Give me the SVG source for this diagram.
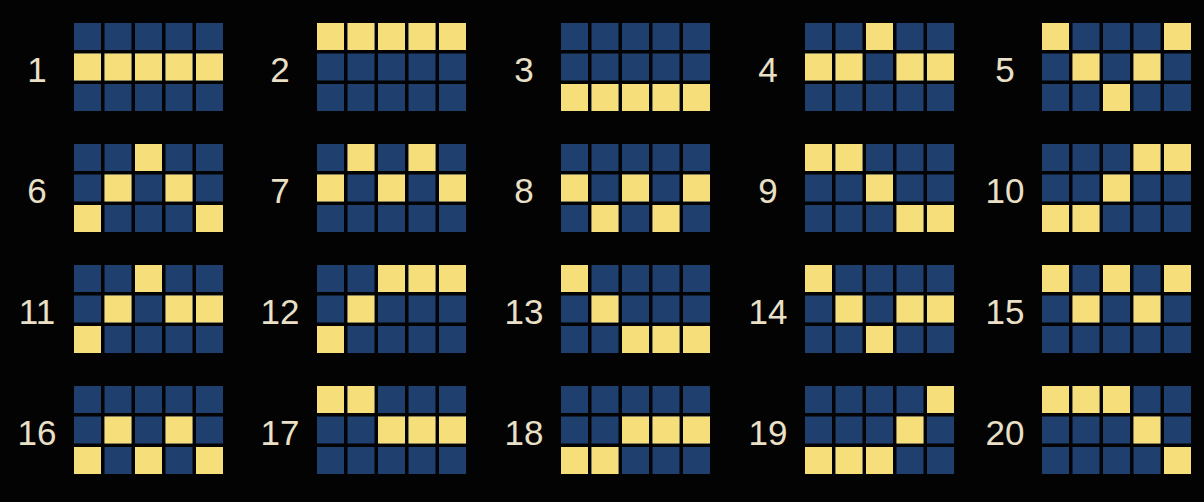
<svg xmlns="http://www.w3.org/2000/svg" xmlns:xlink="http://www.w3.org/1999/xlink" width="1204" height="502" viewBox="0 0 1204 502">
<style>
.b{fill:#1f3f6e}
.y{fill:#f6df7a}
.n{font-family:"Liberation Sans",Arial,sans-serif;font-size:35px;fill:#eae0c8;text-anchor:middle}
</style>
<defs>
<g id="bg">
<rect class="b" x="0" y="0" width="27" height="27"/><rect class="b" x="30.5" y="0" width="27" height="27"/><rect class="b" x="61" y="0" width="27" height="27"/><rect class="b" x="91.5" y="0" width="27" height="27"/><rect class="b" x="122" y="0" width="27" height="27"/>
<rect class="b" x="0" y="30.5" width="27" height="27"/><rect class="b" x="30.5" y="30.5" width="27" height="27"/><rect class="b" x="61" y="30.5" width="27" height="27"/><rect class="b" x="91.5" y="30.5" width="27" height="27"/><rect class="b" x="122" y="30.5" width="27" height="27"/>
<rect class="b" x="0" y="61" width="27" height="27"/><rect class="b" x="30.5" y="61" width="27" height="27"/><rect class="b" x="61" y="61" width="27" height="27"/><rect class="b" x="91.5" y="61" width="27" height="27"/><rect class="b" x="122" y="61" width="27" height="27"/>
</g>
</defs>
<rect width="1204" height="502" fill="#030303"/>

<g id="line1" transform="translate(74,23)"><use href="#bg"/><text class="n" x="-37" y="59">1</text>
<rect class="y" x="0" y="30.5" width="27" height="27"/><rect class="y" x="30.5" y="30.5" width="27" height="27"/><rect class="y" x="61" y="30.5" width="27" height="27"/><rect class="y" x="91.5" y="30.5" width="27" height="27"/><rect class="y" x="122" y="30.5" width="27" height="27"/></g>
<g id="line2" transform="translate(317,23)"><use href="#bg"/><text class="n" x="-37" y="59">2</text>
<rect class="y" x="0" y="0" width="27" height="27"/><rect class="y" x="30.5" y="0" width="27" height="27"/><rect class="y" x="61" y="0" width="27" height="27"/><rect class="y" x="91.5" y="0" width="27" height="27"/><rect class="y" x="122" y="0" width="27" height="27"/></g>
<g id="line3" transform="translate(561,23)"><use href="#bg"/><text class="n" x="-37" y="59">3</text>
<rect class="y" x="0" y="61" width="27" height="27"/><rect class="y" x="30.5" y="61" width="27" height="27"/><rect class="y" x="61" y="61" width="27" height="27"/><rect class="y" x="91.5" y="61" width="27" height="27"/><rect class="y" x="122" y="61" width="27" height="27"/></g>
<g id="line4" transform="translate(805,23)"><use href="#bg"/><text class="n" x="-37" y="59">4</text>
<rect class="y" x="0" y="30.5" width="27" height="27"/><rect class="y" x="30.5" y="30.5" width="27" height="27"/><rect class="y" x="61" y="0" width="27" height="27"/><rect class="y" x="91.5" y="30.5" width="27" height="27"/><rect class="y" x="122" y="30.5" width="27" height="27"/></g>
<g id="line5" transform="translate(1042,23)"><use href="#bg"/><text class="n" x="-37" y="59">5</text>
<rect class="y" x="0" y="0" width="27" height="27"/><rect class="y" x="30.5" y="30.5" width="27" height="27"/><rect class="y" x="61" y="61" width="27" height="27"/><rect class="y" x="91.5" y="30.5" width="27" height="27"/><rect class="y" x="122" y="0" width="27" height="27"/></g>

<g id="line6" transform="translate(74,144)"><use href="#bg"/><text class="n" x="-37" y="59">6</text>
<rect class="y" x="0" y="61" width="27" height="27"/><rect class="y" x="30.5" y="30.5" width="27" height="27"/><rect class="y" x="61" y="0" width="27" height="27"/><rect class="y" x="91.5" y="30.5" width="27" height="27"/><rect class="y" x="122" y="61" width="27" height="27"/></g>
<g id="line7" transform="translate(317,144)"><use href="#bg"/><text class="n" x="-37" y="59">7</text>
<rect class="y" x="0" y="30.5" width="27" height="27"/><rect class="y" x="30.5" y="0" width="27" height="27"/><rect class="y" x="61" y="30.5" width="27" height="27"/><rect class="y" x="91.5" y="0" width="27" height="27"/><rect class="y" x="122" y="30.5" width="27" height="27"/></g>
<g id="line8" transform="translate(561,144)"><use href="#bg"/><text class="n" x="-37" y="59">8</text>
<rect class="y" x="0" y="30.5" width="27" height="27"/><rect class="y" x="30.5" y="61" width="27" height="27"/><rect class="y" x="61" y="30.5" width="27" height="27"/><rect class="y" x="91.5" y="61" width="27" height="27"/><rect class="y" x="122" y="30.5" width="27" height="27"/></g>
<g id="line9" transform="translate(805,144)"><use href="#bg"/><text class="n" x="-37" y="59">9</text>
<rect class="y" x="0" y="0" width="27" height="27"/><rect class="y" x="30.5" y="0" width="27" height="27"/><rect class="y" x="61" y="30.5" width="27" height="27"/><rect class="y" x="91.5" y="61" width="27" height="27"/><rect class="y" x="122" y="61" width="27" height="27"/></g>
<g id="line10" transform="translate(1042,144)"><use href="#bg"/><text class="n" x="-37" y="59">10</text>
<rect class="y" x="0" y="61" width="27" height="27"/><rect class="y" x="30.5" y="61" width="27" height="27"/><rect class="y" x="61" y="30.5" width="27" height="27"/><rect class="y" x="91.5" y="0" width="27" height="27"/><rect class="y" x="122" y="0" width="27" height="27"/></g>

<g id="line11" transform="translate(74,265)"><use href="#bg"/><text class="n" x="-37" y="59">11</text>
<rect class="y" x="0" y="61" width="27" height="27"/><rect class="y" x="30.5" y="30.5" width="27" height="27"/><rect class="y" x="61" y="0" width="27" height="27"/><rect class="y" x="91.5" y="30.5" width="27" height="27"/><rect class="y" x="122" y="30.5" width="27" height="27"/></g>
<g id="line12" transform="translate(317,265)"><use href="#bg"/><text class="n" x="-37" y="59">12</text>
<rect class="y" x="0" y="61" width="27" height="27"/><rect class="y" x="30.5" y="30.5" width="27" height="27"/><rect class="y" x="61" y="0" width="27" height="27"/><rect class="y" x="91.5" y="0" width="27" height="27"/><rect class="y" x="122" y="0" width="27" height="27"/></g>
<g id="line13" transform="translate(561,265)"><use href="#bg"/><text class="n" x="-37" y="59">13</text>
<rect class="y" x="0" y="0" width="27" height="27"/><rect class="y" x="30.5" y="30.5" width="27" height="27"/><rect class="y" x="61" y="61" width="27" height="27"/><rect class="y" x="91.5" y="61" width="27" height="27"/><rect class="y" x="122" y="61" width="27" height="27"/></g>
<g id="line14" transform="translate(805,265)"><use href="#bg"/><text class="n" x="-37" y="59">14</text>
<rect class="y" x="0" y="0" width="27" height="27"/><rect class="y" x="30.5" y="30.5" width="27" height="27"/><rect class="y" x="61" y="61" width="27" height="27"/><rect class="y" x="91.5" y="30.5" width="27" height="27"/><rect class="y" x="122" y="30.5" width="27" height="27"/></g>
<g id="line15" transform="translate(1042,265)"><use href="#bg"/><text class="n" x="-37" y="59">15</text>
<rect class="y" x="0" y="0" width="27" height="27"/><rect class="y" x="30.5" y="30.5" width="27" height="27"/><rect class="y" x="61" y="0" width="27" height="27"/><rect class="y" x="91.5" y="30.5" width="27" height="27"/><rect class="y" x="122" y="0" width="27" height="27"/></g>

<g id="line16" transform="translate(74,386)"><use href="#bg"/><text class="n" x="-37" y="59">16</text>
<rect class="y" x="0" y="61" width="27" height="27"/><rect class="y" x="30.5" y="30.5" width="27" height="27"/><rect class="y" x="61" y="61" width="27" height="27"/><rect class="y" x="91.5" y="30.5" width="27" height="27"/><rect class="y" x="122" y="61" width="27" height="27"/></g>
<g id="line17" transform="translate(317,386)"><use href="#bg"/><text class="n" x="-37" y="59">17</text>
<rect class="y" x="0" y="0" width="27" height="27"/><rect class="y" x="30.5" y="0" width="27" height="27"/><rect class="y" x="61" y="30.5" width="27" height="27"/><rect class="y" x="91.5" y="30.5" width="27" height="27"/><rect class="y" x="122" y="30.5" width="27" height="27"/></g>
<g id="line18" transform="translate(561,386)"><use href="#bg"/><text class="n" x="-37" y="59">18</text>
<rect class="y" x="0" y="61" width="27" height="27"/><rect class="y" x="30.5" y="61" width="27" height="27"/><rect class="y" x="61" y="30.5" width="27" height="27"/><rect class="y" x="91.5" y="30.5" width="27" height="27"/><rect class="y" x="122" y="30.5" width="27" height="27"/></g>
<g id="line19" transform="translate(805,386)"><use href="#bg"/><text class="n" x="-37" y="59">19</text>
<rect class="y" x="0" y="61" width="27" height="27"/><rect class="y" x="30.5" y="61" width="27" height="27"/><rect class="y" x="61" y="61" width="27" height="27"/><rect class="y" x="91.5" y="30.5" width="27" height="27"/><rect class="y" x="122" y="0" width="27" height="27"/></g>
<g id="line20" transform="translate(1042,386)"><use href="#bg"/><text class="n" x="-37" y="59">20</text>
<rect class="y" x="0" y="0" width="27" height="27"/><rect class="y" x="30.5" y="0" width="27" height="27"/><rect class="y" x="61" y="0" width="27" height="27"/><rect class="y" x="91.5" y="30.5" width="27" height="27"/><rect class="y" x="122" y="61" width="27" height="27"/></g>
</svg>
